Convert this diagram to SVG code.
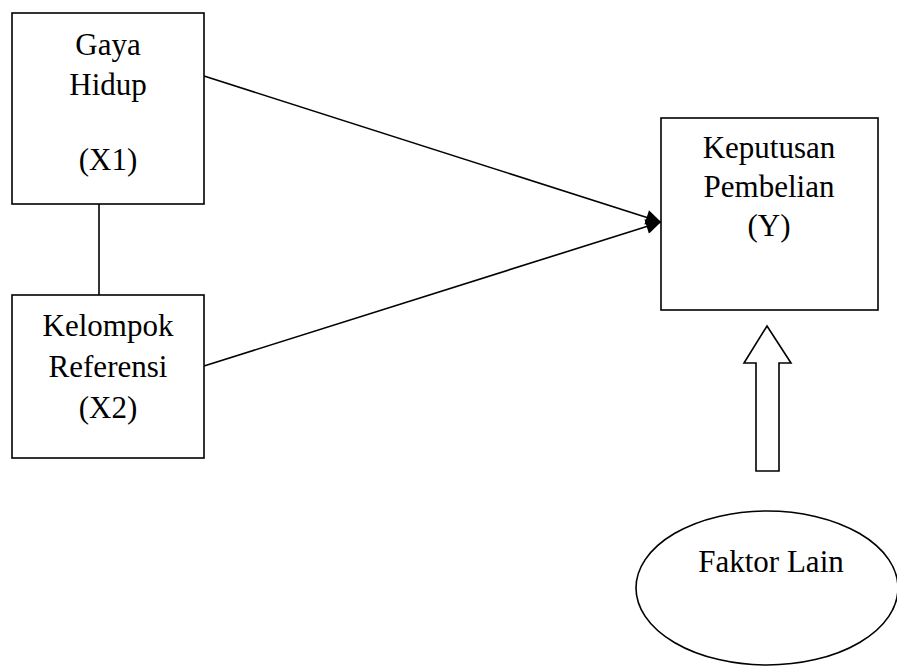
<svg xmlns="http://www.w3.org/2000/svg" width="897" height="667" viewBox="0 0 897 667">
<style>
.box{fill:#fff;stroke:#000;stroke-width:1.6}
.t{font-family:"Liberation Serif","Times New Roman",serif;font-size:31px;fill:#000;text-anchor:middle}
.ln{stroke:#000;stroke-width:1.6;fill:none}
</style>
<defs>
<marker id="ah" viewBox="0 0 10 10" refX="10" refY="5" markerWidth="16" markerHeight="15" markerUnits="userSpaceOnUse" orient="auto">
<path d="M0,0 L10,5 L0,10 z" fill="#000"/>
</marker>
</defs>
<rect width="897" height="667" fill="#fff"/>
<g id="connectors">
<line class="ln" x1="99" y1="204" x2="99" y2="295"/>
<line class="ln" x1="204" y1="76" x2="661" y2="222" marker-end="url(#ah)"/>
<line class="ln" x1="204" y1="366" x2="661" y2="222" marker-end="url(#ah)"/>
<path class="box" d="M767,326 L791,363 L779,363 L779,471 L756,471 L756,363 L744,363 Z"/>
</g>
<g id="x1">
<rect class="box" x="12" y="13" width="192" height="191"/>
<text class="t" x="108" y="55">Gaya</text>
<text class="t" x="108" y="95">Hidup</text>
<text class="t" x="108" y="170">(X1)</text>
</g>
<g id="x2">
<rect class="box" x="12" y="295" width="192" height="163"/>
<text class="t" x="108" y="336">Kelompok</text>
<text class="t" x="108" y="377">Referensi</text>
<text class="t" x="108" y="418">(X2)</text>
</g>
<g id="y">
<rect class="box" x="661" y="118" width="217" height="192"/>
<text class="t" x="769" y="158">Keputusan</text>
<text class="t" x="769" y="197">Pembelian</text>
<text class="t" x="769" y="236">(Y)</text>
</g>
<g id="faktor">
<ellipse class="box" cx="767" cy="588" rx="131" ry="77"/>
<text class="t" x="771" y="572">Faktor Lain</text>
</g>
</svg>
